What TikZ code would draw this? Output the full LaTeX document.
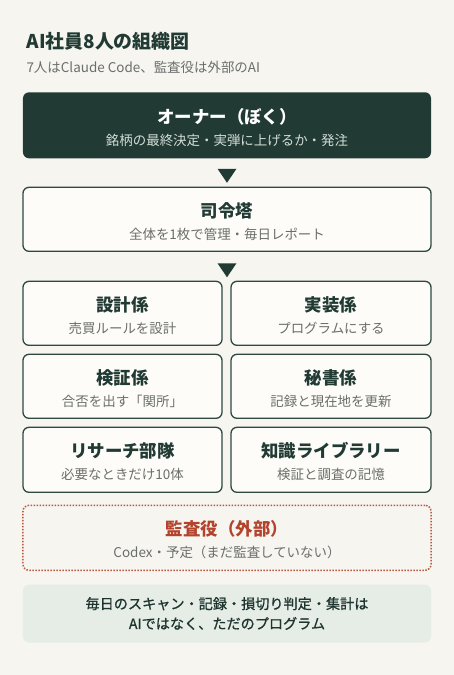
\documentclass[tikz,border=0pt]{standalone}
\usepackage{fontspec}
\setmainfont{Noto Sans CJK JP}
\newfontfamily\notefont{Noto Sans CJK JP}[FakeBold=0.8]
\usepackage{tikz}
\usetikzlibrary{positioning, shapes.geometric}
\definecolor{paper}{HTML}{F6F5F0}
\definecolor{deep}{HTML}{213A33}
\definecolor{card}{HTML}{FDFCF9}
\definecolor{edge}{HTML}{2E4841}
\definecolor{muted}{HTML}{6A6E6A}
\definecolor{pale}{HTML}{D3DCD7}
\definecolor{alert}{HTML}{B3432C}
\definecolor{mist}{HTML}{E6EDE7}
\newcommand{\boxhead}[1]{{\fontsize{17.5}{22}\selectfont\bfseries\rule{0pt}{19.5bp}#1}}
\newcommand{\boxsub}[1]{#1\rule[-2bp]{0pt}{2bp}}
\tikzstyle{owner}=[rectangle, rounded corners=6bp, fill=deep, text=pale, align=center, outer sep=0pt,
  minimum width=408bp, minimum height=66bp, font=\fontsize{13.5}{22}\selectfont]
\tikzstyle{role}=[rectangle, rounded corners=6bp, draw=edge, line width=1.3bp, fill=card, outer sep=0pt,
  text=muted, align=center, minimum height=64bp, font=\fontsize{13.5}{22}\selectfont]
\tikzstyle{audit}=[rectangle, rounded corners=6bp, draw=alert!90!white, line width=1.5bp, outer sep=0pt,
  dash pattern=on 1.5bp off 1.5bp, fill=paper, text=muted, align=center,
  minimum width=408bp, minimum height=65bp, font=\fontsize{13.5}{22}\selectfont]
\tikzstyle{downtri}=[isosceles triangle, isosceles triangle stretches, shape border rotate=270,
  fill=deep, inner sep=0pt, minimum width=19bp, minimum height=14bp]

\begin{document}
\begin{tikzpicture}[x=1bp, y=-1bp]
  \useasboundingbox[fill=paper] (0,0) rectangle (454,675);

  \node (head) [anchor=base west, text=deep, font=\fontsize{19}{22}\selectfont\bfseries]
    at (23,48.5) {AI社員8人の組織図};
  \node (lead) [anchor=base west, text=muted, font=\fontsize{13.5}{16}\selectfont]
    at (23,72.5) {7人はClaude Code、監査役は外部のAI};

  \node [owner] (owner) at (227,125.3)
    {{\color{white}\boxhead{オーナー（ぼく）}}\\\boxsub{銘柄の最終決定・実弾に上げるか・発注}};
  \node [role, minimum width=408bp] (hq) [below=29bp of owner]
    {{\color{deep}\boxhead{司令塔}}\\\boxsub{全体を1枚で管理・毎日レポート}};

  \node [role, minimum width=199bp] (design) [below right=30bp and 0bp of hq.south west]
    {{\color{deep}\boxhead{設計係}}\\\boxsub{売買ルールを設計}};
  \node [role, minimum width=200bp] (build) [right=9bp of design]
    {{\color{deep}\boxhead{実装係}}\\\boxsub{プログラムにする}};
  \node [role, minimum width=199bp] (check) [below=9bp of design]
    {{\color{deep}\boxhead{検証係}}\\\boxsub{合否を出す「関所」}};
  \node [role, minimum width=200bp] (secr) [below=9bp of build]
    {{\color{deep}\boxhead{秘書係}}\\\boxsub{記録と現在地を更新}};
  \node [role, minimum width=199bp, minimum height=65bp] (research) [below=9bp of check]
    {{\color{deep}\boxhead{リサーチ部隊}}\\\boxsub{必要なときだけ10体}};
  \node [role, minimum width=200bp, minimum height=65bp] (library) [below=9bp of secr]
    {{\color{deep}\boxhead{知識ライブラリー}}\\\boxsub{検証と調査の記憶}};

  \node [audit] (audit) [below right=13bp and 0bp of research.south west]
    {{\color{alert}\boxhead{監査役（外部）}}\\\boxsub{Codex・予定（まだ監査していない）}};
  \node [rectangle, rounded corners=6bp, fill=mist, text=deep!90!black, align=center,
    minimum width=408bp, minimum height=58bp, font=\fontsize{14.2}{20}\selectfont\notefont]
    (note) [below=14bp of audit]
    {毎日のスキャン・記録・損切り判定・集計は\\AIではなく、ただのプログラム};

  \path (owner.south) -- node[downtri, yshift=-1bp] (a1) {} (hq.north);
  \path (hq.south) -- node[downtri, yshift=-2bp] (a2) {} (hq.south |- design.north);
\end{tikzpicture}
\end{document}
